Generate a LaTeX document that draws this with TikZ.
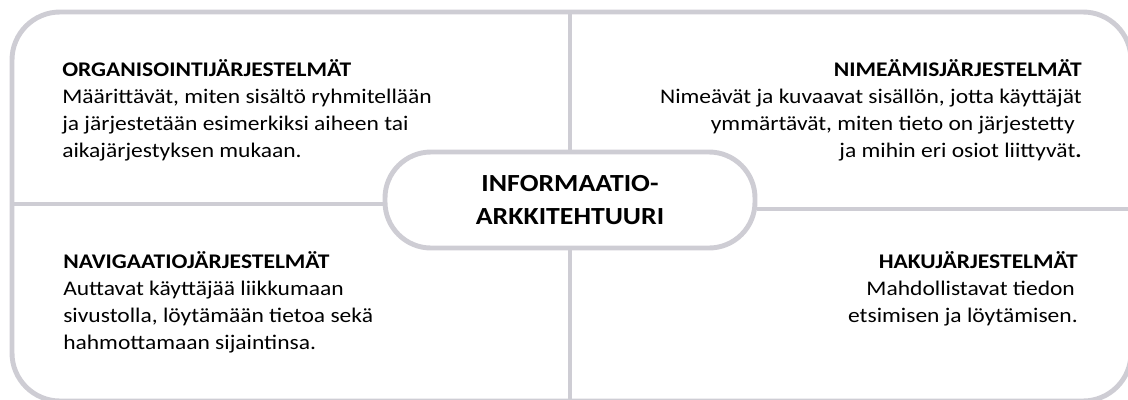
\documentclass[tikz,border=0pt]{standalone}
\usepackage{fontspec}
\setmainfont{Carlito}[FakeStretch=1.13]
\usetikzlibrary{positioning}
\definecolor{iagray}{RGB}{206,205,212}
\tikzset{
	frameline/.style={draw=iagray, line width=3.5pt},
	blocktext/.style={inner sep=0pt, font=\fontsize{14.8}{19.2}\selectfont}
}
\begin{document}
\begin{tikzpicture}[PillStyle/.style={frameline, rounded corners=1.15cm, minimum width=9.25cm, minimum height=2.4cm, inner sep=0pt, align=center, font=\fontsize{17.5}{23.4}\selectfont\bfseries}]
		\useasboundingbox (0,0) rectangle (28.2,9.975);
		\clip (0,0) rectangle (28.2,9.975);
		\node (frame) [frameline, rounded corners=1.2cm, minimum width=27.975cm, minimum height=9.725cm, inner sep=0pt] at (14.2875,4.8125) {};
		\node (ia) [PillStyle] at (14.25,4.975) {INFORMAATIO-\\ARKKITEHTUURI};
		\draw[frameline] (ia.north) -- (ia.north |- frame.north);
		\draw[frameline] (ia.south) -- (ia.south |- frame.south);
		\draw[frameline] ([yshift=-0.1cm]ia.west) -- ([yshift=-0.1cm]ia.west -| frame.west);
		\draw[frameline] ([yshift=-0.225cm]ia.east) -- ([yshift=-0.225cm]ia.east -| frame.east);
		\node (org) [blocktext, align=left, anchor=base west] at (1.55,6.05) {\textbf{ORGANISOINTIJÄRJESTELMÄT}\\Määrittävät, miten sisältö ryhmitellään\\ja järjestetään esimerkiksi aiheen tai\\aikajärjestyksen mukaan.};
		\node (nim) [blocktext, align=right, anchor=base east] at (27.05,6.05) {\textbf{NIMEÄMISJÄRJESTELMÄT}\\Nimeävät ja kuvaavat sisällön, jotta käyttäjät\\ymmärtävät, miten tieto on järjestetty\kern5pt\\ja mihin eri osiot liittyvät\textbf{.}};
		\node (nav) [blocktext, align=left, anchor=base west] at (1.575,1.25) {\textbf{NAVIGAATIOJÄRJESTELMÄT}\\Auttavat käyttäjää liikkumaan\\sivustolla, löytämään tietoa sekä\\hahmottamaan sijaintinsa.};
		\node (hak) [blocktext, align=right, anchor=base east] at (26.95,1.925) {\textbf{HAKUJÄRJESTELMÄT}\\Mahdollistavat tiedon\kern2pt\\etsimisen ja löytämisen.};
	\end{tikzpicture}
\end{document}
